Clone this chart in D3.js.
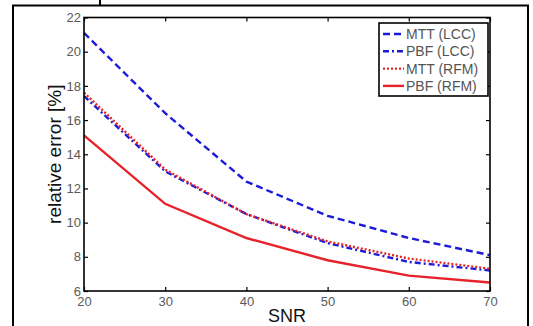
<!DOCTYPE html>
<html>
<head>
<meta charset="utf-8">
<script src="https://cdn.jsdelivr.net/npm/d3@7"></script>
<style>
  body { margin: 0; background: #fff; }
  svg { display: block; font-family: Arial, "Liberation Sans", sans-serif; }
</style>
</head>
<body>
<svg id="chart" width="533" height="326"></svg>
<script>
// data
const snr = [20, 30, 40, 50, 60, 70];
const mttLcc = [21.1, 16.4, 12.4, 10.4, 9.1, 8.1];
const pbfLcc = [17.4, 13.0, 10.5, 8.8, 7.7, 7.2];
const mttRfm = [17.6, 13.1, 10.5, 8.9, 7.9, 7.3];
const pbfRfm = [15.1, 11.1, 9.1, 7.8, 6.9, 6.5];
const xTicks = [20, 30, 40, 50, 60, 70];
const yTicks = [6, 8, 10, 12, 14, 16, 18, 20, 22];
const seriesNames = ["MTT (LCC)", "PBF (LCC)", "MTT (RFM)", "PBF (RFM)"];

const blue = "#1c1cd8";
const red = "#e6232a";
const series = [
  { name: seriesNames[0], values: mttLcc, color: blue, dash: "7,4" },
  { name: seriesNames[1], values: pbfLcc, color: blue, dash: "6,3,2,3" },
  { name: seriesNames[2], values: mttRfm, color: red, dash: "2,2" },
  { name: seriesNames[3], values: pbfRfm, color: red, dash: null }
];

const svg = d3.select("#chart");
const plot = { left: 84, right: 490, top: 17.5, bottom: 291 };

// page frame around the figure
svg.append("g")
  .attr("stroke", "#000")
  .attr("stroke-width", 2)
  .selectAll("line")
  .data([[12, 5.5, 529, 5.5], [13, 5.5, 13, 326], [528, 5.5, 528, 326], [100, 0, 100, 5.5]])
  .join("line")
  .attr("x1", d => d[0]).attr("y1", d => d[1])
  .attr("x2", d => d[2]).attr("y2", d => d[3]);

const x = d3.scaleLinear().domain([20, 70]).range([plot.left, plot.right]);
const y = d3.scaleLinear().domain([6, 22]).range([plot.bottom, plot.top]);

// axes, ticks pointing inwards (matlab style)
const styleAxis = (g, showLabels) => {
  g.select(".domain").remove();
  g.selectAll(".tick line").attr("stroke", "#000").attr("stroke-width", 1.2);
  g.selectAll(".tick text")
    .attr("fill", "#5a5a5a")
    .style("font-size", "13px")
    .style("display", showLabels ? null : "none");
};

svg.append("g")
  .attr("transform", `translate(0,${plot.bottom})`)
  .call(d3.axisBottom(x).tickValues(xTicks).tickSizeInner(-4).tickPadding(6))
  .call(g => styleAxis(g, true));
svg.append("g")
  .attr("transform", `translate(0,${plot.top})`)
  .call(d3.axisTop(x).tickValues(xTicks).tickSizeInner(-4))
  .call(g => styleAxis(g, false));
svg.append("g")
  .attr("transform", `translate(${plot.left},0)`)
  .call(d3.axisLeft(y).tickValues(yTicks).tickSizeInner(-4).tickPadding(3))
  .call(g => styleAxis(g, true));
svg.append("g")
  .attr("transform", `translate(${plot.right},0)`)
  .call(d3.axisRight(y).tickValues(yTicks).tickSizeInner(-4))
  .call(g => styleAxis(g, false));

// lines
const line = d3.line()
  .x((d, i) => x(snr[i]))
  .y(d => y(d));

svg.append("g")
  .selectAll("path")
  .data(series)
  .join("path")
  .attr("d", d => line(d.values))
  .attr("fill", "none")
  .attr("stroke", d => d.color)
  .attr("stroke-width", 2.4)
  .attr("stroke-dasharray", d => d.dash);

// box around plot area
svg.append("rect")
  .attr("x", plot.left).attr("y", plot.top)
  .attr("width", plot.right - plot.left)
  .attr("height", plot.bottom - plot.top)
  .attr("fill", "none")
  .attr("stroke", "#000")
  .attr("stroke-width", 1.6);

// axis titles
svg.append("text")
  .attr("x", (plot.left + plot.right) / 2)
  .attr("y", 322)
  .attr("text-anchor", "middle")
  .attr("fill", "#111")
  .style("font-size", "18px")
  .text("SNR");

svg.append("text")
  .attr("transform", `translate(61,${(plot.top + plot.bottom) / 2}) rotate(-90)`)
  .attr("text-anchor", "middle")
  .attr("fill", "#111")
  .style("font-size", "19px")
  .text("relative error [%]");

// legend
const legend = svg.append("g").attr("transform", "translate(379,23)");
legend.append("rect")
  .attr("width", 109).attr("height", 73)
  .attr("fill", "#fff")
  .attr("stroke", "#000")
  .attr("stroke-width", 1.6);

const item = legend.selectAll(".item")
  .data(series)
  .join("g")
  .attr("class", "item")
  .attr("transform", (d, i) => `translate(0,${11 + i * 17.3})`);
item.append("line")
  .attr("x1", 4).attr("x2", 25)
  .attr("stroke", d => d.color)
  .attr("stroke-width", 2.4)
  .attr("stroke-dasharray", d => d.dash);
item.append("text")
  .attr("x", 27)
  .attr("dy", "0.36em")
  .attr("fill", "#555")
  .style("font-size", "14px")
  .text(d => d.name);
</script>
</body>
</html>
